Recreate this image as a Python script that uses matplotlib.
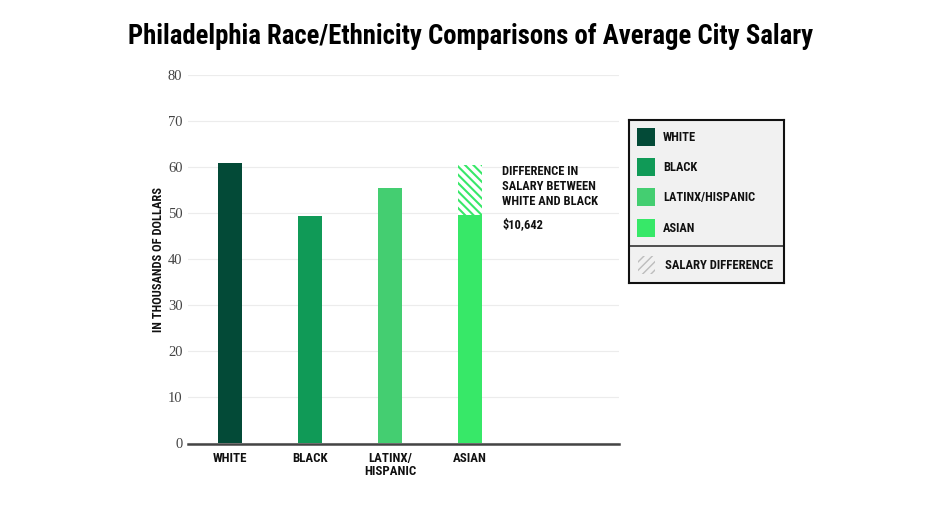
import matplotlib
matplotlib.use("Agg")
import matplotlib.pyplot as plt
from matplotlib.patches import Rectangle
import matplotlib.font_manager as fm

names = {f.name for f in fm.fontManager.ttflist}
COND = [n for n in ["Liberation Sans Narrow", "Roboto Condensed", "Roboto", "DejaVu Sans"] if n in names] + ["DejaVu Sans"]
SERIF = [n for n in ["Liberation Serif", "DejaVu Serif"] if n in names] + ["DejaVu Serif"]

# ---- data ----
categories = ["WHITE", "BLACK", "LATINX/\nHISPANIC", "ASIAN"]
salaries = [60.7, 49.2, 55.3, 49.4]
difference = 11.0           # hatched segment on top of the Asian bar
yticks = [0, 10, 20, 30, 40, 50, 60, 70, 80]
legend_labels = ["WHITE", "BLACK", "LATINX/HISPANIC", "ASIAN"]
colors = ["#034a37", "#109a57", "#44ce71", "#37e868"]
title = "Philadelphia Race/Ethnicity Comparisons of Average City Salary"
ylabel = "IN THOUSANDS OF DOLLARS"
note = "DIFFERENCE IN\nSALARY BETWEEN\nWHITE AND BLACK"
note_value = "$10,642"

W, H = 940, 513
fig = plt.figure(figsize=(W / 100, H / 100), dpi=100)

# main axes (pixel-based placement)
L, R, T, B = 188, 619, 74.5, 444
ax = fig.add_axes([L / W, 1 - B / H, (R - L) / W, (B - T) / H])
ax.set_xlim(-0.525, 4.86)
ax.set_ylim(-0.3, 80)

x = list(range(len(categories)))
ax.bar(x, salaries, width=0.3, color=colors, zorder=3, linewidth=0)
plt.rcParams['hatch.linewidth'] = 1.5
ax.bar([x[3]], [difference], bottom=[salaries[3]], width=0.3, color="white",
       edgecolor=colors[3], hatch="\\\\\\\\", linewidth=0, zorder=3)

ax.set_yticks(yticks)
ax.set_yticklabels([str(v) for v in yticks], fontfamily=SERIF, fontsize=10.5, color="#444444")
ax.set_xticks(x)
ax.set_xticklabels(categories, fontfamily=COND, fontweight="bold", fontsize=9.3,
                   linespacing=0.95, color="#111111")
ax.tick_params(axis="both", length=0)
ax.tick_params(axis="y", pad=4)
ax.tick_params(axis="x", pad=6)
ax.grid(axis="y", color="#ececec", linewidth=0.8, zorder=0)
for s in ["top", "right", "left"]:
    ax.spines[s].set_visible(False)
ax.spines["bottom"].set_color("#444444")
ax.spines["bottom"].set_linewidth(1.8)
ax.set_ylabel(ylabel, fontfamily=COND, fontweight="bold", fontsize=8.9,
              color="#111111", labelpad=2)

ax.text(3.4, 60.35, note, fontfamily=COND, fontweight="bold", fontsize=9.0,
        va="top", ha="left", linespacing=1.2, color="#111111")
ax.text(3.4, 48.8, note_value, fontfamily=COND, fontweight="bold", fontsize=9.0,
        va="top", ha="left", color="#111111")

fig.text(471 / W, 1 - 36 / H, title, fontfamily=COND, fontweight="black",
         fontsize=19.3, ha="center", va="center", color="#000000")

# ---- legend box ----
lx0, ly0, lw, lh = 629, 120, 155, 163
lax = fig.add_axes([lx0 / W, 1 - (ly0 + lh) / H, lw / W, lh / H])
lax.set_xlim(0, lw)
lax.set_ylim(lh, 0)
lax.set_xticks([])
lax.set_yticks([])
lax.set_facecolor("#f1f1f1")
for s in lax.spines.values():
    s.set_color("#111111")
    s.set_linewidth(1.5)
sw_y = [8, 38, 68, 99]
for lab, c, yy in zip(legend_labels, colors, sw_y):
    lax.add_patch(Rectangle((8, yy), 18, 18, facecolor=c, edgecolor="none"))
    lax.text(34, yy + 9.5, lab, fontfamily=COND, fontweight="bold", fontsize=8.9,
             va="center", ha="left", color="#111111")
lax.axhline(126, color="#333333", linewidth=1.2)
plt.rcParams['hatch.linewidth'] = 1.0
lax.add_patch(Rectangle((9, 136), 17, 18, facecolor="none", edgecolor="#bdbdbd",
                        hatch="////", linewidth=0))
lax.text(36, 145.5, "SALARY DIFFERENCE", fontfamily=COND, fontweight="bold",
         fontsize=9.1, va="center", ha="left", color="#111111")

fig.savefig("out.png", dpi=100)
